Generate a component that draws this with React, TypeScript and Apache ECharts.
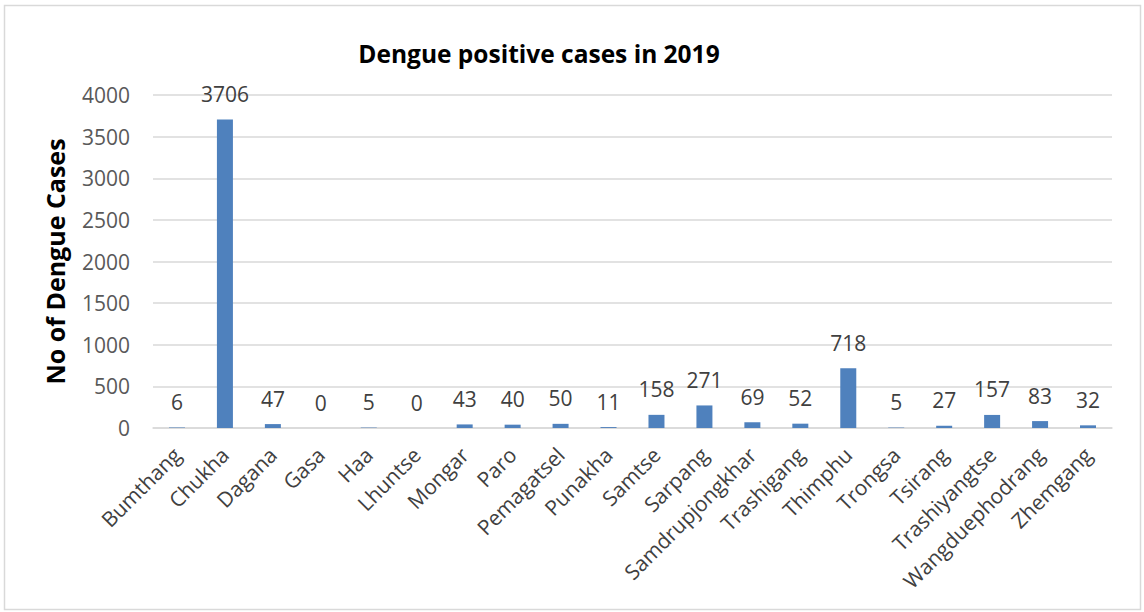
import React, { useEffect, useRef } from "react";
import * as echarts from "echarts";

const categories = [
  "Bumthang", "Chukha", "Dagana", "Gasa", "Haa", "Lhuntse", "Mongar", "Paro",
  "Pemagatsel", "Punakha", "Samtse", "Sarpang", "Samdrupjongkhar", "Trashigang",
  "Thimphu", "Trongsa", "Tsirang", "Trashiyangtse", "Wangduephodrang", "Zhemgang",
];
const cases = [6, 3706, 47, 0, 5, 0, 43, 40, 50, 11, 158, 271, 69, 52, 718, 5, 27, 157, 83, 32];
const titleText = "Dengue positive cases in 2019";
const yAxisName = "No of Dengue Cases";

const FONT = "'Open Sans', sans-serif";

export default function App() {
  const ref = useRef<HTMLDivElement>(null);
  useEffect(() => {
    if (!ref.current) return;
    const chart = echarts.init(ref.current, undefined, { renderer: "svg" });
    chart.setOption({
      animation: false,
      backgroundColor: "#ffffff",
      textStyle: { fontFamily: FONT },
      title: {
        text: titleText,
        left: 534,
        top: 36,
        textAlign: "center",
        textStyle: { fontFamily: FONT, fontWeight: "bold", fontSize: 24.5, color: "#000000" },
      },
      graphic: [
        {
          type: "rect",
          shape: { x: 4.5, y: 5.5, width: 1136, height: 604 },
          style: { fill: "none", stroke: "#d9d9d9", lineWidth: 1.5 },
          silent: true,
        },
      ],
      grid: { left: 153, right: 32, top: 95, bottom: 184, containLabel: false },
      xAxis: {
        type: "category",
        data: categories,
        axisLine: { show: true, lineStyle: { color: "#d9d9d9", width: 1.5 } },
        axisTick: { show: false },
        axisLabel: {
          rotate: 45,
          interval: 0,
          margin: 23,
          fontFamily: FONT,
          fontSize: 21,
          color: "#404040",
        },
      },
      yAxis: {
        type: "value",
        min: 0,
        max: 4000,
        interval: 500,
        name: yAxisName,
        nameLocation: "middle",
        nameGap: 86,
        nameTextStyle: { fontFamily: FONT, fontWeight: "bold", fontSize: 25, color: "#000000" },
        axisLine: { show: false },
        axisTick: { show: false },
        axisLabel: {
          margin: 23,
          fontFamily: FONT,
          fontSize: 21,
          color: "#595959",
          formatter: (v: number) => String(v),
        },
        splitLine: { lineStyle: { color: "#d9d9d9", width: 1.5 } },
      },
      series: [
        {
          type: "bar",
          data: cases,
          barWidth: 16,
          itemStyle: { color: "#4f81bd" },
          label: {
            show: true,
            position: "top",
            distance: 15,
            fontFamily: FONT,
            fontSize: 21,
            color: "#404040",
          },
        },
      ],
    });
    return () => chart.dispose();
  }, []);
  return (
    <div
      ref={ref}
      style={{ position: "fixed", left: 0, top: 0, width: 1144, height: 612 }}
    />
  );
}
